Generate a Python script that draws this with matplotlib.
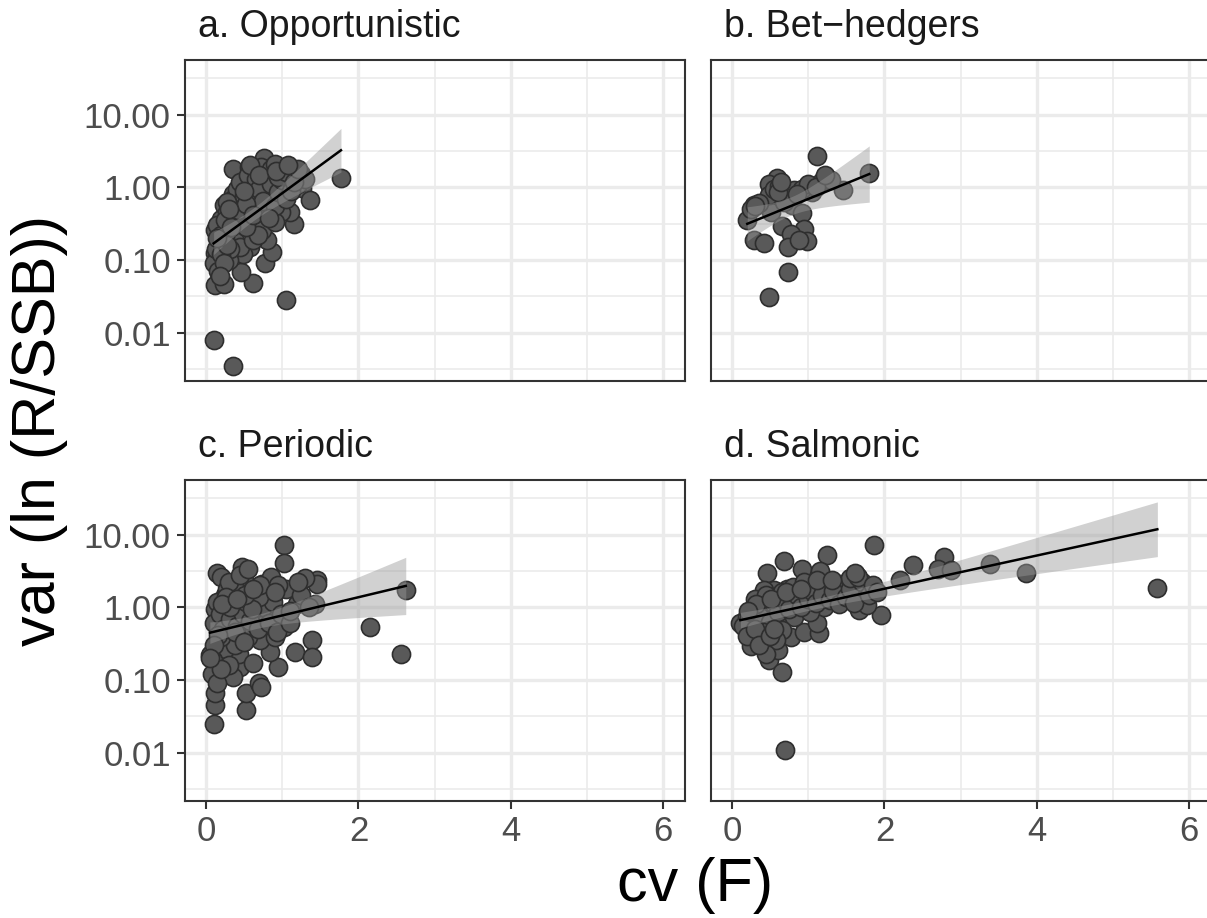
import numpy as np
import matplotlib
matplotlib.use("Agg")
import matplotlib.pyplot as plt
from matplotlib.ticker import FixedLocator, FixedFormatter, NullFormatter

plt.rcParams['font.family'] = ['Liberation Sans', 'DejaVu Sans']

titles = ["a. Opportunistic", "b. Bet\u2212hedgers", "c. Periodic", "d. Salmonic"]

a_x = [0.36, 0.76, 0.56, 0.91, 1.24, 1.77, 1.26, 1.37, 1.15, 1.10, 1.05, 0.10, 0.36, 0.12, 0.23,
       0.61, 0.46, 0.77, 0.23, 0.12, 0.86, 0.80, 0.38, 0.58, 0.49, 0.12, 0.19, 0.38, 0.59, 0.84,
       0.99, 0.23, 0.36, 0.54, 0.60, 0.71, 0.78, 0.97, 0.88, 0.69, 0.47, 0.34, 0.25, 0.45, 0.30,
       0.62, 0.17, 0.73, 0.45, 0.50, 0.65, 0.42, 0.28, 0.55, 0.68, 0.32, 0.15, 0.52, 0.90, 1.00,
       0.15, 0.20, 0.25, 0.30, 0.35, 0.40, 0.45, 0.50, 0.55, 0.60, 0.65, 0.70, 0.75, 0.80, 0.85,
       0.90, 0.95, 1.00, 1.05, 1.20, 0.42, 0.52, 0.62, 0.33, 0.27, 0.72, 0.58, 0.82, 1.12, 1.30,
       0.10, 0.13, 0.16, 0.20, 0.24, 0.28, 0.14, 0.18, 0.85, 0.95, 1.05, 1.15, 0.90, 1.20,
       0.30, 0.50, 0.70, 0.92, 1.08]
a_y = [1.8, 2.5, 1.9, 1.7, 1.54, 1.36, 0.97, 0.66, 0.31, 0.46, 0.028, 0.0078, 0.0035, 0.045, 0.047,
       0.048, 0.069, 0.092, 0.095, 0.125, 0.13, 0.19, 0.18, 0.15, 0.12, 0.26, 0.37, 0.46, 0.30, 0.39,
       0.46, 0.57, 0.82, 0.74, 1.18, 1.38, 1.0, 0.74, 0.54, 0.54, 0.60, 0.32, 0.21, 0.15, 0.10,
       0.19, 0.17, 0.26, 0.37, 1.1, 0.9, 0.65, 0.45, 0.4, 0.22, 0.14, 0.11, 0.28, 0.33, 1.05,
       0.30, 0.22, 0.35, 0.55, 0.70, 0.95, 1.2, 0.75, 1.5, 0.85, 1.3, 0.95, 0.65, 1.6, 1.1,
       0.55, 0.85, 1.25, 0.70, 1.1, 0.48, 0.58, 0.42, 0.28, 0.62, 1.9, 2.0, 0.38, 0.9, 1.3,
       0.09, 0.14, 0.07, 0.12, 0.09, 0.16, 0.20, 0.06, 1.8, 1.4, 1.6, 1.2, 2.1, 1.8,
       0.50, 0.90, 1.5, 1.7, 2.0]

b_x = [1.12, 1.80, 1.45, 1.18, 1.05, 0.59, 0.48, 0.81, 0.92, 0.29, 0.20, 0.51, 0.79, 0.92, 0.66,
       0.94, 0.77, 0.99, 0.73, 0.29, 0.42, 0.88, 0.73, 0.48, 0.48, 0.68, 0.25, 0.35, 0.55, 0.62,
       0.30, 0.60, 1.00, 1.30, 0.85, 1.10, 0.64, 1.22]
b_y = [2.74, 1.57, 0.91, 1.22, 0.86, 1.36, 1.12, 0.91, 0.96, 0.57, 0.35, 0.46, 0.57, 0.44, 0.29,
       0.27, 0.23, 0.18, 0.15, 0.19, 0.17, 0.19, 0.069, 0.031, 0.78, 0.63, 0.50, 0.60, 0.95, 1.05,
       0.55, 0.85, 1.10, 1.25, 0.80, 1.00, 1.20, 1.50]

c_x = [1.02, 1.02, 1.45, 1.45, 2.62, 1.43, 1.19, 2.15, 2.56, 1.39, 1.17, 1.39, 0.10, 0.52, 0.12,
       0.12, 0.52, 0.69, 0.23, 0.95, 0.45, 0.06, 0.12, 0.36, 0.84, 0.71, 0.36, 0.60, 1.02, 0.12,
       0.49, 0.73, 0.47, 0.14, 0.20, 0.89, 0.25, 0.78, 0.20, 0.43, 0.62, 0.72, 0.25, 0.38, 0.50,
       0.67, 0.34, 0.90, 0.09, 0.05, 0.45, 0.80, 0.66, 0.20, 0.55, 0.30,
       0.10, 0.15, 0.18, 0.22, 0.28, 0.32, 0.35, 0.40, 0.42, 0.48, 0.53, 0.58, 0.63, 0.68, 0.75,
       0.82, 0.88, 0.93, 0.98, 1.10, 0.30, 0.45, 0.55, 0.26, 0.38, 0.70, 0.85, 0.60, 0.16, 0.50,
       1.05, 1.25, 1.30, 1.10, 0.95, 1.35, 0.08, 0.15, 0.10, 0.20, 0.05,
       0.31, 0.51, 0.71, 0.91, 1.21, 0.21, 0.41, 0.61]
c_y = [7.1, 4.05, 2.34, 2.1, 1.71, 1.12, 1.12, 0.53, 0.227, 0.35, 0.24, 0.21, 0.025, 0.038, 0.045,
       0.066, 0.066, 0.09, 0.117, 0.15, 0.15, 0.23, 0.22, 0.11, 0.24, 0.35, 0.41, 0.54, 0.54, 0.96,
       1.32, 2.1, 3.6, 3.0, 2.6, 1.54, 1.46, 0.74, 0.66, 0.23, 0.17, 0.081, 0.27, 0.30, 2.34,
       1.06, 0.91, 0.39, 0.19, 0.22, 1.9, 1.62, 0.97, 0.39, 0.39, 0.16,
       0.6, 1.2, 0.8, 0.5, 1.8, 0.7, 1.1, 0.55, 1.6, 0.8, 1.2, 0.65, 1.7, 0.5, 1.0,
       0.6, 1.2, 0.45, 0.8, 0.6, 2.2, 2.8, 3.4, 1.4, 0.45, 1.4, 2.6, 0.95, 0.42, 0.33,
       1.8, 1.5, 2.5, 0.9, 2.0, 1.0, 0.12, 0.09, 0.30, 0.14, 0.20,
       1.0, 1.5, 2.0, 1.6, 2.2, 1.1, 1.3, 1.8]

d_x = [1.86, 1.24, 0.68, 0.92, 1.15, 0.46, 1.64, 2.37, 2.20, 2.78, 2.70, 2.87, 3.38, 5.58, 3.86,
       1.95, 1.66, 1.73, 1.47, 1.42, 0.11, 0.25, 0.40, 0.48, 0.66, 0.69, 0.60, 0.35, 0.52, 0.77,
       0.94, 1.14, 1.12, 0.63, 0.81, 0.29, 0.48, 0.55, 0.72, 0.97, 1.08, 1.25, 1.44, 1.64, 1.77,
       1.21, 0.86, 0.42, 0.37, 0.20, 0.66, 1.35, 1.02, 1.15,
       0.15, 0.25, 0.30, 0.35, 0.45, 0.50, 0.55, 0.60, 0.65, 0.70, 0.75, 0.80, 0.85, 0.90, 0.95,
       1.00, 1.05, 1.10, 1.18, 1.28, 1.32, 1.40, 1.50, 1.55, 1.60, 1.70, 1.80, 0.40, 0.58, 0.45,
       1.55, 1.65, 1.85, 1.90, 0.20, 0.30, 0.35, 0.50, 0.55,
       0.31, 0.51, 0.71, 0.91, 1.11, 1.31, 1.61, 0.21]
d_y = [7.1, 5.2, 4.4, 3.4, 3.2, 3.0, 2.7, 3.8, 2.4, 5.0, 3.4, 3.3, 4.0, 1.84, 2.95,
       0.78, 0.91, 1.3, 1.9, 1.54, 0.61, 0.29, 0.29, 0.19, 0.13, 0.0107, 0.26, 0.39, 0.39, 0.39,
       0.46, 0.44, 0.60, 0.66, 0.74, 0.96, 0.91, 1.71, 1.8, 1.46, 1.8, 1.9, 2.1, 1.3, 1.06,
       1.0, 1.18, 1.71, 1.18, 0.74, 0.48, 1.38, 0.86, 2.1,
       0.55, 0.85, 1.3, 0.75, 1.5, 0.62, 1.1, 0.85, 1.6, 1.25, 0.95, 1.9, 1.5, 1.0, 2.2,
       1.3, 1.7, 1.15, 1.5, 1.25, 1.7, 1.1, 1.4, 1.8, 1.15, 2.2, 1.5, 0.45, 0.35, 0.23,
       2.5, 2.6, 2.0, 1.6, 0.40, 0.50, 0.30, 0.40, 0.50,
       1.1, 1.3, 1.6, 1.8, 2.4, 2.4, 3.0, 0.9]

x_ticks = [0, 2, 4, 6]
y_ticks = [0.01, 0.1, 1, 10]
y_ticklabels = ["0.01", "0.10", "1.00", "10.00"]

panels = [(a_x, a_y), (b_x, b_y), (c_x, c_y), (d_x, d_y)]

W, H = 1207, 918
fig = plt.figure(figsize=(W / 100, H / 100), dpi=100)

def pax(l, t, w, h):
    return fig.add_axes([l / W, 1 - (t + h) / H, w / W, h / H])

pw, ph = 500, 321
lefts = [184.7, 710.7]
tops = [60, 480]

tick_col = "#4D4D4D"
for i, (xs, ys) in enumerate(panels):
    r, c = divmod(i, 2)
    ax = pax(lefts[c], tops[r], pw, ph)
    ax.set_yscale('log')
    ax.set_xlim(-0.28, 6.28)
    ax.set_ylim(10 ** -2.667, 10 ** 1.753)
    ax.xaxis.set_major_locator(FixedLocator(x_ticks))
    ax.xaxis.set_minor_locator(FixedLocator([1, 3, 5]))
    ax.yaxis.set_major_locator(FixedLocator(y_ticks))
    ax.yaxis.set_minor_locator(FixedLocator([10 ** -2.5, 10 ** -1.5, 10 ** -0.5, 10 ** 0.5, 10 ** 1.5]))
    ax.yaxis.set_minor_formatter(NullFormatter())
    ax.grid(True, which='major', color='#EBEBEB', lw=2.4)
    ax.grid(True, which='minor', color='#EBEBEB', lw=1.2)
    ax.set_axisbelow(True)
    for s in ax.spines.values():
        s.set_color('#333333')
        s.set_linewidth(1.5)
        s.set_zorder(5)
    ax.tick_params(which='minor', length=0)
    ax.tick_params(which='major', length=6, width=1.5, color='#333333',
                   labelsize=25, labelcolor=tick_col, pad=4)
    if c == 0:
        ax.yaxis.set_major_formatter(FixedFormatter(y_ticklabels))
    else:
        ax.tick_params(axis='y', which='major', length=0, labelleft=False)
    if r == 1:
        ax.set_xticklabels([str(v) for v in x_ticks])
    else:
        ax.tick_params(axis='x', which='major', length=0, labelbottom=False)

    xa = np.array(xs, float)
    ly = np.log10(np.array(ys, float))
    ax.scatter(xa, ys, s=170, c='#595959', edgecolors='#2E2E2E', linewidths=1.2, zorder=3)

    # linear fit on log10 scale with 95% confidence band
    n = len(xa)
    slope, icpt = np.polyfit(xa, ly, 1)
    resid = ly - (icpt + slope * xa)
    s_err = np.sqrt(np.sum(resid ** 2) / (n - 2))
    sxx = np.sum((xa - xa.mean()) ** 2)
    tq = 1.96 + 2.4 / (n - 2)
    xg = np.linspace(xa.min(), xa.max(), 100)
    fit = icpt + slope * xg
    se = s_err * np.sqrt(1.0 / n + (xg - xa.mean()) ** 2 / sxx)
    ax.fill_between(xg, 10 ** (fit - tq * se), 10 ** (fit + tq * se), color='#999999', alpha=0.45,
                    lw=0, zorder=3.5)
    ax.plot(xg, 10 ** fit, color='black', lw=1.8, zorder=4)

    ax.text(13 / pw, 1 + 23 / ph, titles[i], transform=ax.transAxes, fontsize=27,
            color='#1A1A1A', ha='left', va='baseline')

fig.text(40 / W, 1 - 430 / H, "var (ln (R/SSB))", rotation=90, fontsize=44,
         ha='center', va='center', color='black')
fig.text(695 / W, 1 - 885 / H, "cv (F)", fontsize=44, ha='center', va='center', color='black')

fig.savefig("out.png", dpi=100)
